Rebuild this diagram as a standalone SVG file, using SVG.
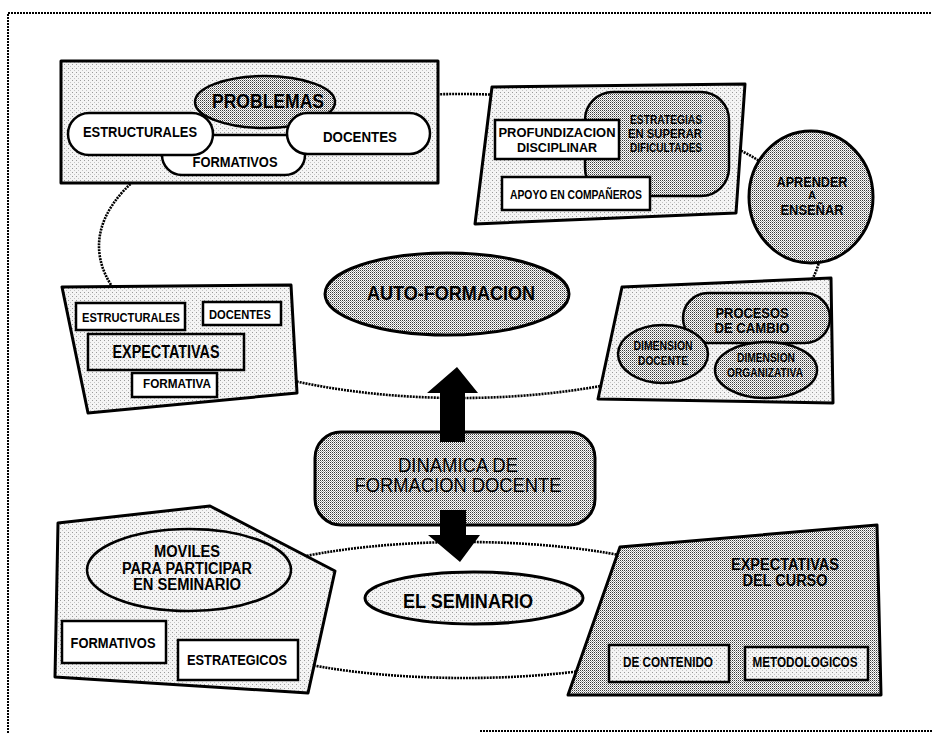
<svg xmlns="http://www.w3.org/2000/svg" width="932" height="733" viewBox="0 0 932 733">
<defs>
<pattern id="lt" width="4" height="4" patternUnits="userSpaceOnUse"><rect width="4" height="4" fill="#f4f4f4"/><rect x="0" y="0" width="1" height="1" fill="#9a9a9a"/><rect x="2" y="2" width="1" height="1" fill="#c4c4c4"/></pattern>
<pattern id="dk" width="2" height="2" patternUnits="userSpaceOnUse"><rect width="2" height="2" fill="#ffffff"/><rect x="0" y="0" width="1" height="1" fill="#3a3a3a"/><rect x="1" y="1" width="1" height="1" fill="#a0a0a0"/></pattern>
</defs>
<style>
.frame{fill:none;stroke:#000;stroke-width:2;stroke-dasharray:2 1}
.ring{fill:none;stroke:#000;stroke-width:2.6;stroke-dasharray:2 1}
.box{stroke:#000;stroke-width:3;stroke-linejoin:round}
.lt{fill:url(#lt)}
.dk{fill:url(#dk)}
.wh{fill:#fff}
.in{stroke:#000;stroke-width:2.5}
text{font-family:"Liberation Sans",Arial,sans-serif;font-weight:bold;fill:#000;text-anchor:middle}
.arrow{fill:#000}
</style>
<rect width="932" height="733" fill="#fff"/>
<path class="frame" d="M8,733 V13 H932"/>
<path class="frame" d="M480,731 H932"/>

<g id="connectors">
<ellipse class="ring" cx="460" cy="246" rx="361" ry="152"/>
<ellipse class="ring" cx="465" cy="610" rx="262" ry="68"/>
</g>

<g id="problemas-box">
<rect class="box lt" x="61" y="61" width="377" height="122"/>
<ellipse class="in dk" cx="265" cy="102" rx="70" ry="26"/>
<text x="268" y="108" font-size="21" textLength="112" lengthAdjust="spacingAndGlyphs">PROBLEMAS</text>
<rect class="in wh" x="162" y="135" width="143" height="40" rx="20"/>
<text x="235" y="167" font-size="14" textLength="85" lengthAdjust="spacingAndGlyphs">FORMATIVOS</text>
<rect class="in wh" x="68" y="113" width="145" height="42" rx="21"/>
<text x="140" y="137" font-size="14" textLength="114" lengthAdjust="spacingAndGlyphs">ESTRUCTURALES</text>
<rect class="in wh" x="287" y="113" width="143" height="41" rx="20.5"/>
<text x="360" y="142" font-size="14" textLength="74" lengthAdjust="spacingAndGlyphs">DOCENTES</text>
</g>

<g id="estrategias-box">
<polygon class="box lt" points="492,87 745,84 736,213 475,224"/>
<rect class="in dk" x="585" y="92" width="144" height="104" rx="28"/>
<text x="666" y="124" font-size="12.5" textLength="72" lengthAdjust="spacingAndGlyphs">ESTRATEGIAS</text>
<text x="665" y="138" font-size="12.5" textLength="74" lengthAdjust="spacingAndGlyphs">EN SUPERAR</text>
<text x="666" y="152" font-size="12.5" textLength="72" lengthAdjust="spacingAndGlyphs">DIFICULTADES</text>
<rect class="in wh" x="495" y="120" width="124" height="39"/>
<text x="557" y="137" font-size="13.5" textLength="117" lengthAdjust="spacingAndGlyphs">PROFUNDIZACION</text>
<text x="557" y="152" font-size="13.5" textLength="80" lengthAdjust="spacingAndGlyphs">DISCIPLINAR</text>
<rect class="in wh" x="502" y="177" width="148" height="33"/>
<text x="576" y="199" font-size="12" textLength="132" lengthAdjust="spacingAndGlyphs">APOYO EN COMPAÑEROS</text>
</g>

<g id="aprender">
<ellipse class="box dk" cx="811" cy="197" rx="62" ry="66"/>
<text x="812" y="187" font-size="14" textLength="71" lengthAdjust="spacingAndGlyphs">APRENDER</text>
<text x="812" y="199" font-size="11">A</text>
<text x="812" y="215" font-size="14" textLength="63" lengthAdjust="spacingAndGlyphs">ENSEÑAR</text>
</g>

<g id="procesos-box">
<polygon class="box lt" points="622,287 831,278 833,403 598,399"/>
<rect class="in dk" x="683" y="293" width="147" height="50" rx="25"/>
<text x="752" y="318" font-size="14" textLength="73" lengthAdjust="spacingAndGlyphs">PROCESOS</text>
<text x="752" y="333" font-size="14" textLength="75" lengthAdjust="spacingAndGlyphs">DE CAMBIO</text>
<ellipse class="in dk" cx="663" cy="354" rx="45" ry="29"/>
<text x="663" y="350" font-size="12" textLength="59" lengthAdjust="spacingAndGlyphs">DIMENSION</text>
<text x="663" y="365" font-size="12" textLength="50" lengthAdjust="spacingAndGlyphs">DOCENTE</text>
<ellipse class="in dk" cx="766" cy="370" rx="51" ry="28"/>
<text x="766" y="362" font-size="12" textLength="58" lengthAdjust="spacingAndGlyphs">DIMENSION</text>
<text x="765" y="377" font-size="12" textLength="76" lengthAdjust="spacingAndGlyphs">ORGANIZATIVA</text>
</g>

<g id="expectativas-box">
<polygon class="box lt" points="62,287 291,285 297,393 88,413"/>
<rect class="in wh" x="76" y="303" width="109" height="27"/>
<text x="131" y="322" font-size="13" textLength="98" lengthAdjust="spacingAndGlyphs">ESTRUCTURALES</text>
<rect class="in wh" x="203" y="302" width="78" height="23"/>
<text x="240" y="319" font-size="13" textLength="62" lengthAdjust="spacingAndGlyphs">DOCENTES</text>
<rect class="in lt" x="88" y="334" width="156" height="36"/>
<text x="166" y="358" font-size="18" textLength="107" lengthAdjust="spacingAndGlyphs">EXPECTATIVAS</text>
<rect class="in wh" x="132" y="373" width="85" height="24"/>
<text x="177" y="388" font-size="12" textLength="68" lengthAdjust="spacingAndGlyphs">FORMATIVA</text>
</g>

<g id="auto-formacion">
<ellipse class="box dk" cx="447" cy="294" rx="122" ry="41"/>
<text x="451" y="300" font-size="21" textLength="168" lengthAdjust="spacingAndGlyphs">AUTO-FORMACION</text>
</g>

<g id="dinamica">
<rect class="box dk" x="315" y="432" width="280" height="93" rx="26"/>
<text x="458" y="472" font-size="20" style="font-weight:normal" textLength="120" lengthAdjust="spacingAndGlyphs">DINAMICA DE</text>
<text x="458" y="492" font-size="20" style="font-weight:normal" textLength="207" lengthAdjust="spacingAndGlyphs">FORMACION DOCENTE</text>
</g>

<g id="seminario">
<ellipse class="box lt" cx="474" cy="598" rx="109" ry="26"/>
<text x="468" y="608" font-size="20" textLength="130" lengthAdjust="spacingAndGlyphs">EL SEMINARIO</text>
</g>

<g id="moviles-box">
<polygon class="box lt" points="58,523 210,506 335,571 308,693 55,677"/>
<ellipse class="in lt" cx="189" cy="570" rx="102" ry="41"/>
<text x="187" y="557" font-size="16" textLength="66" lengthAdjust="spacingAndGlyphs">MOVILES</text>
<text x="187" y="574" font-size="16" textLength="130" lengthAdjust="spacingAndGlyphs">PARA PARTICIPAR</text>
<text x="187" y="590" font-size="16" textLength="108" lengthAdjust="spacingAndGlyphs">EN SEMINARIO</text>
<rect class="in wh" x="62" y="621" width="104" height="42"/>
<text x="113" y="648" font-size="15" textLength="85" lengthAdjust="spacingAndGlyphs">FORMATIVOS</text>
<rect class="in wh" x="178" y="640" width="120" height="40"/>
<text x="237" y="665" font-size="15" textLength="100" lengthAdjust="spacingAndGlyphs">ESTRATEGICOS</text>
</g>

<g id="curso-box">
<polygon class="box dk" points="620,547 877,525 881,695 568,695"/>
<text x="785" y="570" font-size="16" textLength="108" lengthAdjust="spacingAndGlyphs">EXPECTATIVAS</text>
<text x="785" y="586" font-size="16" textLength="85" lengthAdjust="spacingAndGlyphs">DEL CURSO</text>
<rect class="in lt" x="609" y="645" width="120" height="37"/>
<text x="668" y="667" font-size="14" textLength="90" lengthAdjust="spacingAndGlyphs">DE CONTENIDO</text>
<rect class="in lt" x="745" y="647" width="123" height="33"/>
<text x="805" y="667" font-size="14" textLength="105" lengthAdjust="spacingAndGlyphs">METODOLOGICOS</text>
</g>

<g id="arrows">
<polygon class="arrow" points="440,442 440,393 427,393 457,367 478,393 465,393 465,442"/>
<polygon class="arrow" points="440,510 440,535 428,535 460,562 480,535 466,535 466,510"/>
</g>
</svg>
